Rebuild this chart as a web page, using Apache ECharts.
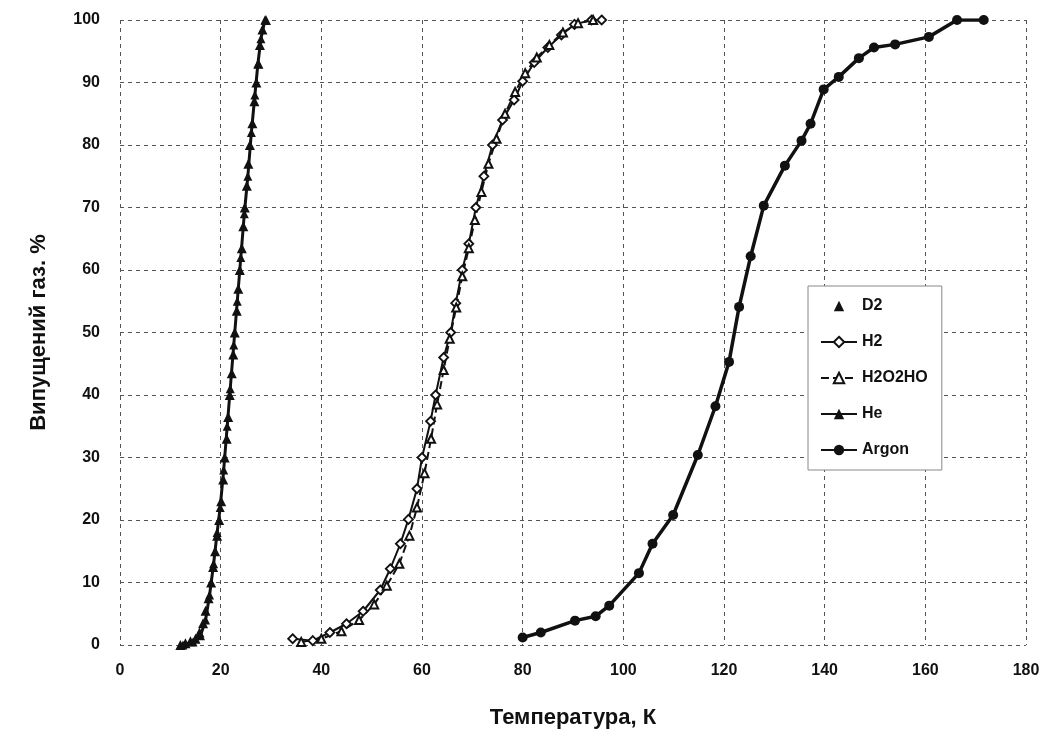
<!DOCTYPE html>
<html>
<head>
<meta charset="utf-8">
<script src="https://cdn.jsdelivr.net/npm/echarts@6/dist/echarts.min.js"></script>
<style>
  html, body { margin: 0; padding: 0; background: #fff; }
  #chart { width: 1046px; height: 743px; }
</style>
</head>
<body>
<div id="chart"></div>
<script>
// values: [temperature K, released gas %]
const seriesNames = ['D2', 'H2', 'H2O2HO', 'He', 'Argon']

const d2 = [
  [12.0, 0], [13.0, 0.3], [14.0, 0.6], [15.0, 1.0], [15.8, 2.0], [16.5, 3.5], [17.0, 5.5],
  [17.6, 7.5], [18.1, 10], [18.5, 12.5], [18.9, 15], [19.3, 17.5], [19.7, 20], [20.1, 23],
  [20.5, 26.5], [20.8, 30], [21.2, 33], [21.5, 36.5], [21.8, 40], [22.2, 43.5], [22.5, 46.5],
  [22.8, 50], [23.2, 53.5], [23.5, 57], [23.8, 60], [24.2, 63.5], [24.5, 67], [24.8, 70],
  [25.2, 73.5], [25.5, 77], [25.8, 80], [26.3, 83.5], [26.7, 87], [27.1, 90], [27.5, 93],
  [27.8, 96], [28.3, 98.5], [29.0, 100]
]

const he = [
  [12.5, 0], [14.5, 0.5], [16.0, 1.5], [17.0, 4], [17.8, 8], [18.6, 13], [19.3, 18],
  [19.9, 22], [20.6, 28], [21.3, 35], [21.9, 41], [22.6, 48], [23.3, 55], [24.0, 62],
  [24.7, 69], [25.4, 75], [26.1, 82], [26.8, 88], [27.4, 93], [28.0, 97], [28.8, 100]
]

const h2 = [
  [34.3, 1], [38.3, 0.7], [41.7, 2], [45.0, 3.4], [48.3, 5.4], [51.7, 8.8], [53.7, 12.2],
  [55.7, 16.2], [57.3, 20.1], [59.0, 25], [60.0, 30], [61.7, 35.8], [62.7, 40], [64.3, 46],
  [65.7, 50], [66.7, 54.7], [68.0, 60], [69.3, 64.2], [70.7, 70], [72.3, 75], [74.0, 80],
  [76.0, 84], [78.3, 87.2], [80.0, 90.2], [82.3, 93.2], [85.0, 95.6], [87.7, 97.6],
  [90.3, 99.3], [93.7, 100], [95.7, 100]
]

const h2o2ho = [
  [36.0, 0.5], [40.0, 1], [44.0, 2.2], [47.5, 4], [50.5, 6.5], [53.0, 9.5], [55.5, 13],
  [57.5, 17.5], [59.0, 22], [60.5, 27.5], [61.8, 33], [63.0, 38.5], [64.3, 44], [65.5, 49],
  [66.8, 54], [68.0, 59], [69.3, 63.5], [70.5, 68], [71.8, 72.5], [73.2, 77], [74.8, 81],
  [76.5, 85], [78.5, 88.5], [80.5, 91.5], [82.8, 94], [85.3, 96], [88.0, 98], [91.0, 99.5],
  [94.0, 100]
]

const argon = [
  [80.0, 1.2], [83.6, 2.0], [90.4, 3.9], [94.5, 4.6], [97.2, 6.3], [103.1, 11.5], [105.8, 16.2],
  [109.9, 20.8], [114.8, 30.4], [118.3, 38.2], [121.0, 45.3], [123.0, 54.1], [125.3, 62.2],
  [127.9, 70.3], [132.1, 76.7], [135.4, 80.7], [137.2, 83.4], [139.8, 88.9], [142.8, 90.9],
  [146.8, 93.9], [149.8, 95.6], [154.0, 96.1], [160.7, 97.3], [166.3, 100], [171.6, 100]
]

const xTicks = { min: 0, max: 180, interval: 20 }
const yTicks = { min: 0, max: 100, interval: 10 }

const font = "'Liberation Sans', Arial, sans-serif"
const gridLine = { lineStyle: { color: '#555', width: 1, type: [4, 4] } }

const chart = echarts.init(document.getElementById('chart'))

chart.setOption({
  backgroundColor: '#fff',
  animation: false,
  grid: { left: 120, right: 20, top: 20, bottom: 98 },
  legend: {
    data: seriesNames,
    orient: 'vertical',
    left: 808,
    top: 286,
    itemGap: 20,
    itemWidth: 36,
    itemHeight: 13,
    padding: [12, 14, 12, 12],
    borderColor: '#888',
    borderWidth: 1,
    backgroundColor: '#fff',
    textStyle: { fontFamily: font, fontSize: 16, fontWeight: 'bold', color: '#111' },
  },
  xAxis: {
    type: 'value',
    min: xTicks.min,
    max: xTicks.max,
    interval: xTicks.interval,
    name: 'Температура, К',
    nameLocation: 'middle',
    nameGap: 62,
    nameTextStyle: { fontFamily: font, fontSize: 22, fontWeight: 'bold', color: '#111' },
    axisLine: { show: false },
    axisTick: { show: false },
    axisLabel: { margin: 18, fontFamily: font, fontSize: 16, fontWeight: 'bold', color: '#111' },
    splitLine: { show: true, ...gridLine },
  },
  yAxis: {
    type: 'value',
    min: yTicks.min,
    max: yTicks.max,
    interval: yTicks.interval,
    name: 'Випущений газ. %',
    nameLocation: 'middle',
    nameGap: 70,
    nameTextStyle: { fontFamily: font, fontSize: 22, fontWeight: 'bold', color: '#111' },
    axisLine: { show: false },
    axisTick: { show: false },
    axisLabel: { margin: 20, fontFamily: font, fontSize: 16, fontWeight: 'bold', color: '#111' },
    splitLine: { show: true, ...gridLine },
  },
  series: [
    {
      name: 'D2',
      type: 'line',
      data: d2,
      symbol: 'triangle',
      symbolSize: 10,
      itemStyle: { color: '#111' },
      lineStyle: { width: 0, opacity: 0 },
      z: 4,
    },
    {
      name: 'H2',
      type: 'line',
      data: h2,
      symbol: 'diamond',
      symbolSize: 9,
      itemStyle: { color: '#fff', borderColor: '#111', borderWidth: 1.8 },
      lineStyle: { width: 2, color: '#111' },
      z: 3,
    },
    {
      name: 'H2O2HO',
      type: 'line',
      data: h2o2ho,
      symbol: 'emptyTriangle',
      symbolSize: 8,
      itemStyle: { color: '#111', borderColor: '#111', borderWidth: 1.8 },
      lineStyle: { width: 2, color: '#111', type: 'dashed' },
      z: 3,
    },
    {
      name: 'He',
      type: 'line',
      data: he,
      symbol: 'triangle',
      symbolSize: 9,
      itemStyle: { color: '#111' },
      lineStyle: { width: 3, color: '#111' },
      z: 3,
    },
    {
      name: 'Argon',
      type: 'line',
      data: argon,
      symbol: 'circle',
      symbolSize: 10,
      itemStyle: { color: '#111' },
      lineStyle: { width: 3.5, color: '#111' },
      z: 5,
    },
  ],
})
</script>
</body>
</html>
